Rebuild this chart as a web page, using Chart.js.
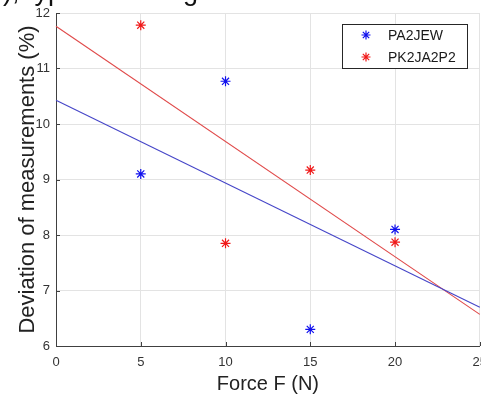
<!DOCTYPE html>
<html><head><meta charset="utf-8">
<script src="https://cdn.jsdelivr.net/npm/chart.js@4/dist/chart.umd.min.js"></script>
<style>
html,body{margin:0;padding:0;background:#fff;overflow:hidden;}
#wrap{position:relative;width:481px;height:394px;overflow:hidden;}
#cap{position:absolute;left:3px;top:-24px;font:27px "Liberation Sans",Arial,sans-serif;line-height:31px;color:#111;white-space:nowrap;}
canvas{position:absolute;left:0;top:0;}
</style></head><body>
<div id="wrap"><canvas id="c" width="486" height="394" style="width:486px;height:394px"></canvas><div id="cap">), typical loading</div></div>
<script>
// ---- data ----
const forces = [5, 10, 15, 20];
const pa2jew = [9.1, 10.77, 6.3, 8.1];
const pk2ja2p2 = [11.78, 7.85, 9.17, 7.87];
const fitX = [0, 25];
const pa2jewFit = [10.43, 6.70];
const pk2ja2p2Fit = [11.76, 6.57];
const seriesNames = ['PA2JEW', 'PK2JA2P2'];
const xTicks = [0, 5, 10, 15, 20, 25];
const yTicks = [6, 7, 8, 9, 10, 11, 12];
const xTitle = 'Force F (N)';
const yTitle = 'Deviation of measurements (%)';

const BLUE = '#1010ee', RED = '#f01818';
const pts = (xs, ys) => xs.map((x, i) => ({x: x, y: ys[i]}));

function drawStar(ctx, x, y, r, color) {
  ctx.save();
  ctx.strokeStyle = color; ctx.lineWidth = 1.2;
  ctx.beginPath();
  for (let k = 0; k < 4; k++) {
    const a = k * Math.PI / 4;
    ctx.moveTo(x - r * Math.cos(a), y - r * Math.sin(a));
    ctx.lineTo(x + r * Math.cos(a), y + r * Math.sin(a));
  }
  ctx.stroke();
  ctx.restore();
}

const extras = {
  id: 'extras',
  afterDatasetsDraw(chart) {
    const ctx = chart.ctx, xs = chart.scales.x, ys = chart.scales.y;
    const ca = chart.chartArea;
    ctx.save();
    ctx.strokeStyle = '#404040'; ctx.lineWidth = 1;
    ctx.beginPath();
    xTicks.forEach(v => { const px = Math.round(xs.getPixelForValue(v)) + 0.5; ctx.moveTo(px, ca.bottom); ctx.lineTo(px, ca.bottom - 4); });
    yTicks.forEach(v => { const py = Math.round(ys.getPixelForValue(v)) + 0.5; ctx.moveTo(ca.left, py); ctx.lineTo(ca.left + 4, py); });
    ctx.stroke();
    // legend
    const lx = 342.5, ly = 24.5, lw = 125, lh = 44;
    ctx.fillStyle = '#fff'; ctx.fillRect(lx, ly, lw, lh);
    ctx.strokeStyle = '#262626'; ctx.strokeRect(lx, ly, lw, lh);
    ctx.font = '14px "Liberation Sans", Arial, sans-serif';
    ctx.textBaseline = 'middle'; ctx.textAlign = 'left'; ctx.fillStyle = '#1a1a1a';
    const cols = [BLUE, RED];
    seriesNames.forEach((n, i) => {
      const y = 35 + i * 22;
      drawStar(ctx, 366, y, 4.5, cols[i]);
      ctx.fillText(n, 388, y + 1);
    });
    ctx.restore();
  }
};

new Chart(document.getElementById('c'), {
  type: 'scatter',
  data: {
    datasets: [
      {label: seriesNames[0], data: pts(forces, pa2jew), pointStyle: 'star', pointRadius: 5, borderColor: BLUE, backgroundColor: BLUE, pointBorderWidth: 1.2, order: 1},
      {label: seriesNames[1], data: pts(forces, pk2ja2p2), pointStyle: 'star', pointRadius: 5, borderColor: RED, backgroundColor: RED, pointBorderWidth: 1.2, order: 2},
      {label: seriesNames[0] + ' fit', data: pts(fitX, pa2jewFit), showLine: true, pointRadius: 0, borderColor: '#4646c8', borderWidth: 1.1, order: 3},
      {label: seriesNames[1] + ' fit', data: pts(fitX, pk2ja2p2Fit), showLine: true, pointRadius: 0, borderColor: '#e04a4a', borderWidth: 1.1, order: 4}
    ]
  },
  options: {
    responsive: false, animation: false, clip: false,
    layout: {padding: {top: 13, right: 0, left: 0, bottom: 0}},
    plugins: {legend: {display: false}, tooltip: {enabled: false}},
    scales: {
      x: {
        type: 'linear', min: 0, max: 25,
        afterBuildTicks: s => { s.ticks = xTicks.map(v => ({value: v})); },
        afterFit: s => { s.height = 48; s.paddingLeft = 0; s.paddingRight = 0; },
        ticks: {color: '#333', font: {size: 13, family: '"Liberation Sans", Arial, sans-serif'}, padding: 9, maxRotation: 0, autoSkip: false},
        grid: {color: '#e3e3e3', drawTicks: false},
        border: {display: true, color: '#404040', width: 1},
        title: {display: true, text: xTitle, color: '#222', font: {size: 20, family: '"Liberation Sans", Arial, sans-serif'}, padding: {top: 0, bottom: -2}}
      },
      y: {
        type: 'linear', min: 6, max: 12,
        afterBuildTicks: s => { s.ticks = yTicks.map(v => ({value: v})); },
        afterFit: s => { s.width = 56; s.paddingTop = 0; s.paddingBottom = 0; },
        ticks: {color: '#333', font: {size: 13, family: '"Liberation Sans", Arial, sans-serif'}, padding: 6, autoSkip: false},
        grid: {color: '#e3e3e3', drawTicks: false},
        border: {display: true, color: '#404040', width: 1},
        title: {display: true, text: yTitle, color: '#222', font: {size: 22, family: '"Liberation Sans", Arial, sans-serif'}, padding: {top: 15, bottom: 0}}
      }
    }
  },
  plugins: [extras]
});
</script>
</body></html>
